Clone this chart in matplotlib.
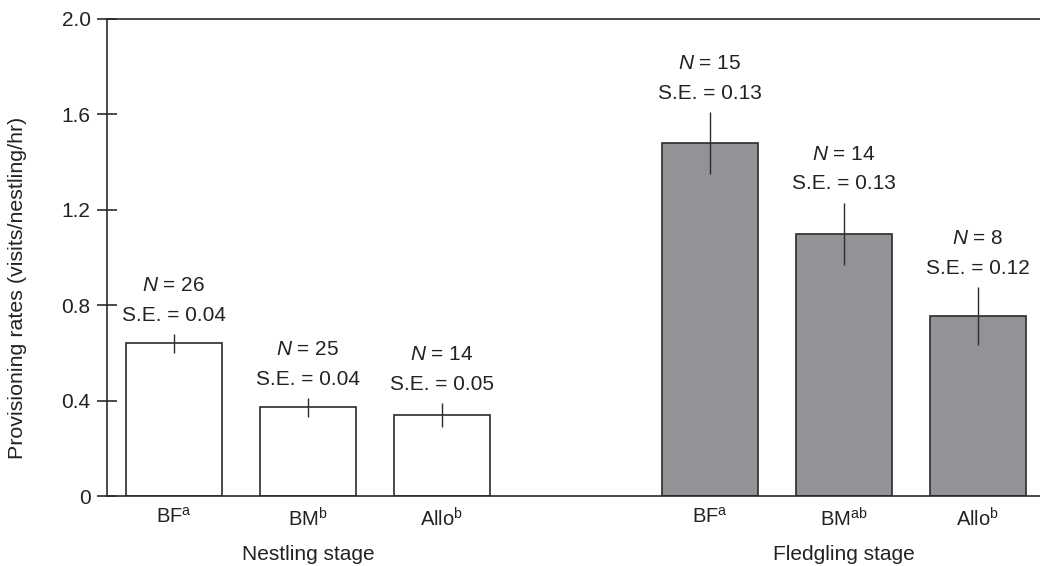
import matplotlib
matplotlib.use("Agg")
import matplotlib.pyplot as plt
import matplotlib.transforms as mtransforms

plt.rcParams['font.family'] = ['Liberation Sans', 'DejaVu Sans']
plt.rcParams['mathtext.fontset'] = 'custom'
plt.rcParams['mathtext.rm'] = 'Liberation Sans'
plt.rcParams['mathtext.it'] = 'Liberation Sans:italic'
plt.rcParams['mathtext.bf'] = 'Liberation Sans:bold'

# Data
categories = ['BF$^{\\mathrm{a}}$', 'BM$^{\\mathrm{b}}$', 'Allo$^{\\mathrm{b}}$',
              'BF$^{\\mathrm{a}}$', 'BM$^{\\mathrm{ab}}$', 'Allo$^{\\mathrm{b}}$']
positions = [0, 1, 2, 4, 5, 6]
means = [0.64, 0.372, 0.34, 1.48, 1.10, 0.755]
ses = [0.04, 0.04, 0.05, 0.13, 0.13, 0.12]
ns = [26, 25, 14, 15, 14, 8]
se_labels = ['0.04', '0.04', '0.05', '0.13', '0.13', '0.12']
stages = ['Nestling stage', 'Fledgling stage']
stage_centers = [1, 5]
yticks = [0, 0.4, 0.8, 1.2, 1.6, 2.0]
ytick_labels = ['0', '0.4', '0.8', '1.2', '1.6', '2.0']

W, H = 1040, 566
fig = plt.figure(figsize=(W / 100, H / 100), dpi=100)
ax = fig.add_axes([107 / W, (H - 496) / H, 1 - 107 / W, (496 - 19) / H])

colors = ['white'] * 3 + ['#929396'] * 3
spine_col = '#2b2b2b'
txt_col = '#222222'
ax.bar(positions, means, width=0.71, color=colors, edgecolor=spine_col, linewidth=1.2, zorder=2)
ax.errorbar(positions, means, yerr=ses, fmt='none', ecolor=spine_col, elinewidth=1.0, capsize=0, zorder=3)

for x, m, s, n, sl in zip(positions, means, ses, ns, se_labels):
    top = m + s
    ax.annotate(f'S.E. = {sl}', (x, top), xytext=(0, 9.5), textcoords='offset points',
                ha='center', va='baseline', fontsize=15, color=txt_col)
    ax.annotate(f'$\\it{{N}}$ = {n}', (x, top), xytext=(0, 31), textcoords='offset points',
                ha='center', va='baseline', fontsize=15, color=txt_col)

ax.set_xlim(-0.5, 6.463)
ax.set_ylim(0, 2.0)
ax.set_yticks(yticks)
ax.set_yticklabels(ytick_labels, fontsize=15, color=txt_col)
ax.set_xticks(positions)
ax.set_xticklabels(categories, fontsize=14.5, color=txt_col)
ax.tick_params(axis='x', length=0, pad=8)
ax.tick_params(axis='y', direction='inout', length=13.7, width=1.2, color=spine_col, pad=5)

for side in ['left', 'top', 'bottom']:
    ax.spines[side].set_color(spine_col)
    ax.spines[side].set_linewidth(1.2)
ax.spines['right'].set_visible(False)

trans = mtransforms.blended_transform_factory(ax.transData, fig.transFigure)
for name, c in zip(stages, stage_centers):
    ax.text(c, (H - 554) / H, name, transform=trans, ha='center', va='center',
            fontsize=15, color=txt_col)

fig.text(18 / W, 1 - 288 / H, 'Provisioning rates (visits/nestling/hr)', rotation=90,
         ha='center', va='center', fontsize=15.4, color=txt_col)

fig.savefig('out.png', dpi=100)
